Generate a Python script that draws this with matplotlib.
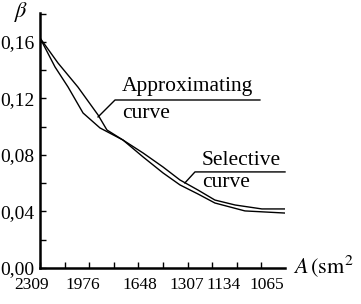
import matplotlib
matplotlib.use("Agg")
import matplotlib.pyplot as plt
from matplotlib.ticker import MultipleLocator, FuncFormatter

plt.rcParams['font.family'] = ['Liberation Serif', 'DejaVu Serif']
plt.rcParams['mathtext.fontset'] = 'stix'

# x is the position along the area axis (one unit = one minor tick)
approx_x = [0.0, 0.73, 1.54, 2.36, 2.72, 3.37, 4.19, 5.00, 5.69, 6.42, 7.11, 8.33, 9.95]
approx_y = [0.1628, 0.1451, 0.1281, 0.1083, 0.0977, 0.0906, 0.0786, 0.0673,
            0.0588, 0.0524, 0.0460, 0.0404, 0.0389]

select_x = [0.0, 0.61, 1.14, 1.75, 2.44, 3.37, 4.19, 5.00, 5.69, 6.42, 7.11, 7.93, 9.02, 9.95]
select_y = [0.1628, 0.1423, 0.1281, 0.1097, 0.0991, 0.0906, 0.0814, 0.0715,
            0.0623, 0.0552, 0.0481, 0.0446, 0.0418, 0.0418]

area_labels = ['2309', '1976', '1648', '1307', '1134', '1065']
area_label_pos = [-0.33, 1.75, 4.07, 5.98, 7.48, 9.23]

fig = plt.figure(figsize=(3.61, 3.04), dpi=100)
ax = fig.add_axes([0.1108, 0.1184, 0.678, 0.839])

ax.plot(approx_x, approx_y, color='black', lw=1.0)
ax.plot(select_x, select_y, color='black', lw=1.0)

ax.set_xlim(0, 9.95)
ax.set_ylim(0, 0.1805)

for s in ['top', 'right']:
    ax.spines[s].set_visible(False)
for s in ['left', 'bottom']:
    ax.spines[s].set_linewidth(1.8)

ax.yaxis.set_major_locator(MultipleLocator(0.04))
ax.yaxis.set_minor_locator(MultipleLocator(0.02))
ax.yaxis.set_major_formatter(FuncFormatter(lambda v, p: f"{v:.2f}".replace('.', ',')))
ax.xaxis.set_major_locator(MultipleLocator(1))
ax.set_xticklabels([])
ax.tick_params(which='both', direction='in', length=4, width=1, labelsize=14)
ax.tick_params(axis='y', pad=4)
ax.tick_params(axis='x', labelbottom=False)

trans = ax.get_xaxis_transform()
for lab, pos in zip(area_labels, area_label_pos):
    ax.text(pos, -0.034, lab, transform=trans, ha='center', va='top',
            fontsize=12.5, clip_on=False)

# annotations
ax.text(3.33, 0.1253, 'Approximating', fontsize=15.5, va='baseline')
ax.text(3.33, 0.1062, 'curve', fontsize=15.5, va='baseline')
ax.plot([2.36, 3.05, 8.94], [0.1069, 0.1189, 0.1189], color='black', lw=1.0)

ax.text(6.59, 0.0729, 'Selective', fontsize=15.5, va='baseline')
ax.text(6.59, 0.0573, 'curve', fontsize=15.5, va='baseline')
ax.plot([5.89, 6.30, 9.96], [0.0602, 0.0680, 0.0680], color='black', lw=1.0,
        clip_on=False)

fig.text(0.058, 0.96, r'$\beta$', fontsize=16, ha='center', va='center')
fig.text(0.811, 0.102, r'$A\,(\mathrm{sm}^2$', fontsize=16, va='baseline')

fig.savefig('out.png', dpi=100)
